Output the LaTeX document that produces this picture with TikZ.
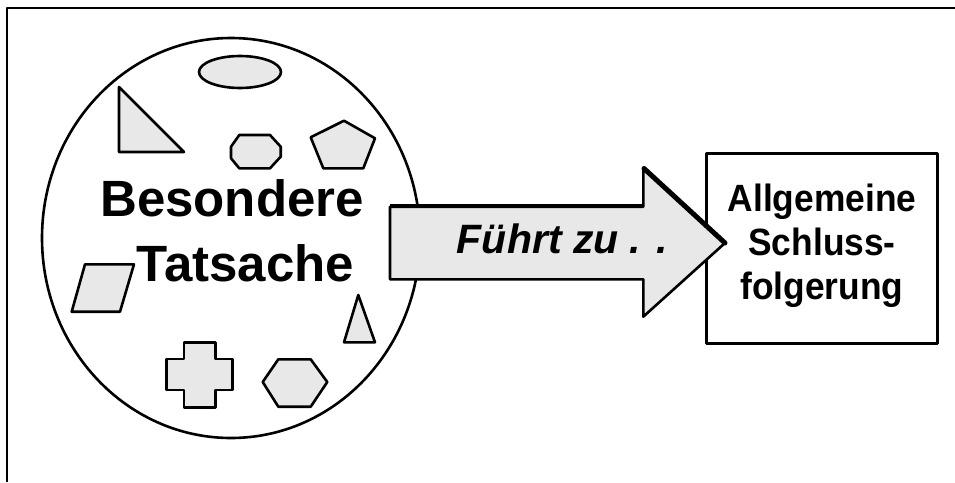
\documentclass[tikz,border=0pt]{standalone}
\usepackage{fontspec}
\setmainfont{Liberation Sans}
\usetikzlibrary{shapes.geometric}
\definecolor{shapegrey}{HTML}{E8E8E8}
\begin{document}
\begin{tikzpicture}[x=1pt,y=-1pt,line join=round,
  outline/.style={draw=black,line width=2.6pt},
  piece/.style={outline,fill=shapegrey},
  bigtext/.style={font=\fontsize{51}{60}\selectfont\bfseries,inner sep=0pt,anchor=base west},
  boxtext/.style={font=\fontsize{38}{44}\selectfont\bfseries,align=center,inner sep=0pt,xscale=0.93}]
  \useasboundingbox (0,0) rectangle (955,482);
  % open frame: top and left rules
  \draw[line width=2.6pt] (7,482) -- (7,8) -- (955,8);

  % the set of particular facts
  \draw[outline,fill=white] (231,238) ellipse [x radius=189, y radius=200];
  \draw[piece] (240,72) ellipse [x radius=41, y radius=16];
  \draw[piece] (119,87) -- (119,152) -- (184,152) -- cycle;
  \draw[piece] (239.3,135) -- (270,135) -- (280.7,146.7) -- (280.7,156.7) -- (270,168.3)
        -- (239.3,168.3) -- (231,158.3) -- (231,146.7) -- cycle;
  \draw[piece] (344,120.7) -- (375,138.3) -- (363.3,168.3) -- (323.3,168.3) -- (310.7,137.3) -- cycle;
  \draw[piece] (85,264.3) -- (134,264.3) -- (120,311.7) -- (71.7,311.7) -- cycle;
  \draw[piece] (358.3,295) -- (375,342.3) -- (344,342.3) -- cycle;
  \draw[piece] (184,342.3) -- (215.7,342.3) -- (215.7,359) -- (232.3,359) -- (232.3,390)
        -- (215.7,390) -- (215.7,407.3) -- (184,407.3) -- (184,390) -- (166.7,390)
        -- (166.7,359) -- (184,359) -- cycle;
  \draw[piece] (262.7,382) -- (278.3,359.3) -- (310.7,359.3) -- (327.3,382) -- (310.7,406.7)
        -- (278.3,406.7) -- cycle;
  \node[bigtext] (besondere) at (100,216.7) {Besondere};
  \node[bigtext] (tatsache) at (136.7,281.7) {Tatsache};

  % the general conclusion
  \node[outline,minimum width=231pt,minimum height=190pt,anchor=north west] (box) at (705,152) {};
  \node[boxtext] (schluss) at (822,246) {Allgemeine\\Schluss-\\folgerung};

  % block arrow leading from the facts to the conclusion
  \coordinate (aTip) at (725,243);
  \draw[piece] (390,206.7) -- (643.3,206.7) -- (643.3,168.3) -- (aTip) -- (643.3,316.7)
        -- (643.3,279.3) -- (390,279.3) -- cycle;
  \draw[line width=3.6pt] (390,206) -- (643.3,206);
  \draw[line width=5pt,line cap=round] (644,168.5) -- (aTip);
  \node[font=\fontsize{41}{48}\selectfont\bfseries\itshape,inner sep=0pt,anchor=base west]
        (fuehrt) at (456.7,253.3) {Führt zu . .};
\end{tikzpicture}
\end{document}
